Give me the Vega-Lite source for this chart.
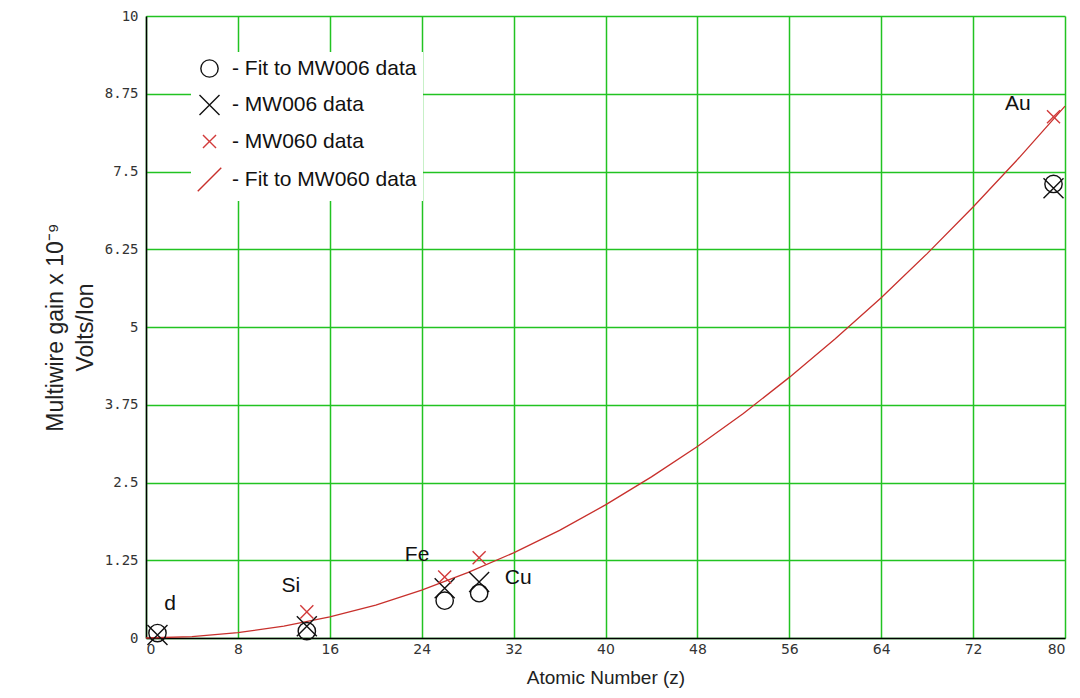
{
  "$schema": "https://vega.github.io/schema/vega-lite/v6.json",
  "width": 919,
  "height": 622,
  "autosize": "none",
  "padding": {"left": 146, "top": 16, "right": 15, "bottom": 60},
  "background": "white",
  "config": {
    "view": {"stroke": null},
    "font": "Liberation Sans"
  },
  "datasets": {
    "points": [
      {"z": 1, "gain": 0.08, "series": "Fit to MW006 data"},
      {"z": 14, "gain": 0.11, "series": "Fit to MW006 data"},
      {"z": 26, "gain": 0.6, "series": "Fit to MW006 data"},
      {"z": 29, "gain": 0.72, "series": "Fit to MW006 data"},
      {"z": 79, "gain": 7.3, "series": "Fit to MW006 data"},
      {"z": 1, "gain": 0.05, "series": "MW006 data"},
      {"z": 14, "gain": 0.19, "series": "MW006 data"},
      {"z": 26, "gain": 0.8, "series": "MW006 data"},
      {"z": 29, "gain": 0.9, "series": "MW006 data"},
      {"z": 79, "gain": 7.23, "series": "MW006 data"},
      {"z": 14, "gain": 0.42, "series": "MW060 data"},
      {"z": 26, "gain": 0.98, "series": "MW060 data"},
      {"z": 29, "gain": 1.29, "series": "MW060 data"},
      {"z": 79, "gain": 8.38, "series": "MW060 data"}
    ],
    "fit": [
      {"z": 0, "gain": 0},
      {"z": 4, "gain": 0.021},
      {"z": 8, "gain": 0.086},
      {"z": 12, "gain": 0.19},
      {"z": 16, "gain": 0.34},
      {"z": 20, "gain": 0.53},
      {"z": 24, "gain": 0.77},
      {"z": 28, "gain": 1.05},
      {"z": 32, "gain": 1.37},
      {"z": 36, "gain": 1.73},
      {"z": 40, "gain": 2.14},
      {"z": 44, "gain": 2.59},
      {"z": 48, "gain": 3.08},
      {"z": 52, "gain": 3.61},
      {"z": 56, "gain": 4.19},
      {"z": 60, "gain": 4.81},
      {"z": 64, "gain": 5.47},
      {"z": 68, "gain": 6.18},
      {"z": 72, "gain": 6.93},
      {"z": 76, "gain": 7.72},
      {"z": 80, "gain": 8.55}
    ],
    "labels": [
      {"z": 2.1, "gain": 0.55, "label": "d"},
      {"z": 12.6, "gain": 0.84, "label": "Si"},
      {"z": 23.6, "gain": 1.33, "label": "Fe"},
      {"z": 32.4, "gain": 0.96, "label": "Cu"},
      {"z": 75.9, "gain": 8.58, "label": "Au"}
    ]
  },
  "layer": [
    {
      "data": {"name": "fit"},
      "mark": {"type": "line", "color": "#c8302c", "strokeWidth": 1.3},
      "encoding": {
        "x": {
          "field": "z", "type": "quantitative",
          "scale": {"domain": [0, 80], "nice": false, "zero": false},
          "axis": {
            "values": [0, 8, 16, 24, 32, 40, 48, 56, 64, 72, 80],
            "title": "Atomic Number (z)",
            "titleFont": "Liberation Sans", "titleFontSize": 19, "titleFontWeight": "normal",
            "titleColor": "#222", "titlePadding": 12,
            "labelFont": "DejaVu Sans", "labelFontSize": 14, "labelColor": "#333",
            "labelPadding": 4,
            "ticks": false,
            "domainColor": "#000", "domainWidth": 1.5,
            "grid": true, "gridColor": "#22c322", "gridWidth": 1.5
          }
        },
        "y": {
          "field": "gain", "type": "quantitative",
          "scale": {"domain": [0, 10], "nice": false, "zero": true},
          "axis": {
            "values": [0, 1.25, 2.5, 3.75, 5, 6.25, 7.5, 8.75, 10],
            "labelExpr": "datum.value + ''",
            "title": ["Multiwire gain x 10⁻⁹", "Volts/Ion"],
            "titleFont": "Liberation Sans", "titleFontSize": 23, "titleFontWeight": "normal",
            "titleColor": "#222", "titlePadding": 7, "titleLineHeight": 30,
            "labelFont": "DejaVu Sans Mono", "labelFontSize": 14, "labelColor": "#333",
            "labelPadding": 8,
            "ticks": false,
            "domainColor": "#000", "domainWidth": 1.5,
            "grid": true, "gridColor": "#22c322", "gridWidth": 1.5
          }
        }
      }
    },
    {
      "data": {"name": "points"},
      "mark": {"type": "point", "filled": false, "strokeWidth": 1.4, "opacity": 1},
      "encoding": {
        "x": {"field": "z", "type": "quantitative"},
        "y": {"field": "gain", "type": "quantitative"},
        "shape": {
          "field": "series", "type": "nominal",
          "scale": {
            "domain": ["Fit to MW006 data", "MW006 data", "MW060 data", "Fit to MW060 data"],
            "range": ["circle", "M-1,-1L1,1M-1,1L1,-1", "M-1,-1L1,1M-1,1L1,-1", "M-1,1L1,-1"]
          },
          "legend": {
            "orient": "none", "legendX": 45, "legendY": 36,
            "title": null,
            "labelExpr": "'- ' + datum.label",
            "labelFont": "Liberation Sans", "labelFontSize": 21, "labelColor": "#111",
            "labelOffset": 10, "labelLimit": 400,
            "rowPadding": 12,
            "fillColor": "white", "padding": 6,
            "symbolStrokeWidth": 1.4
          }
        },
        "color": {
          "field": "series", "type": "nominal",
          "scale": {
            "domain": ["Fit to MW006 data", "MW006 data", "MW060 data", "Fit to MW060 data"],
            "range": ["#111111", "#111111", "#d23a3a", "#c8302c"]
          },
          "legend": {
            "orient": "none", "legendX": 45, "legendY": 36,
            "title": null,
            "labelExpr": "'- ' + datum.label",
            "labelFont": "Liberation Sans", "labelFontSize": 21, "labelColor": "#111",
            "labelOffset": 10, "labelLimit": 400,
            "rowPadding": 12,
            "fillColor": "white", "padding": 6,
            "symbolStrokeWidth": 1.4
          }
        },
        "size": {
          "field": "series", "type": "nominal",
          "scale": {
            "type": "ordinal",
            "domain": ["Fit to MW006 data", "MW006 data", "MW060 data", "Fit to MW060 data"],
            "range": [300, 400, 170, 550]
          },
          "legend": {
            "orient": "none", "legendX": 45, "legendY": 36,
            "title": null,
            "labelExpr": "'- ' + datum.label",
            "labelFont": "Liberation Sans", "labelFontSize": 21, "labelColor": "#111",
            "labelOffset": 10, "labelLimit": 400,
            "rowPadding": 12,
            "fillColor": "white", "padding": 6,
            "symbolStrokeWidth": 1.4
          }
        }
      }
    },
    {
      "data": {"name": "labels"},
      "mark": {"type": "text", "font": "Liberation Sans", "fontSize": 21, "color": "#111", "align": "center", "baseline": "middle"},
      "encoding": {
        "x": {"field": "z", "type": "quantitative"},
        "y": {"field": "gain", "type": "quantitative"},
        "text": {"field": "label"}
      }
    }
  ]
}
